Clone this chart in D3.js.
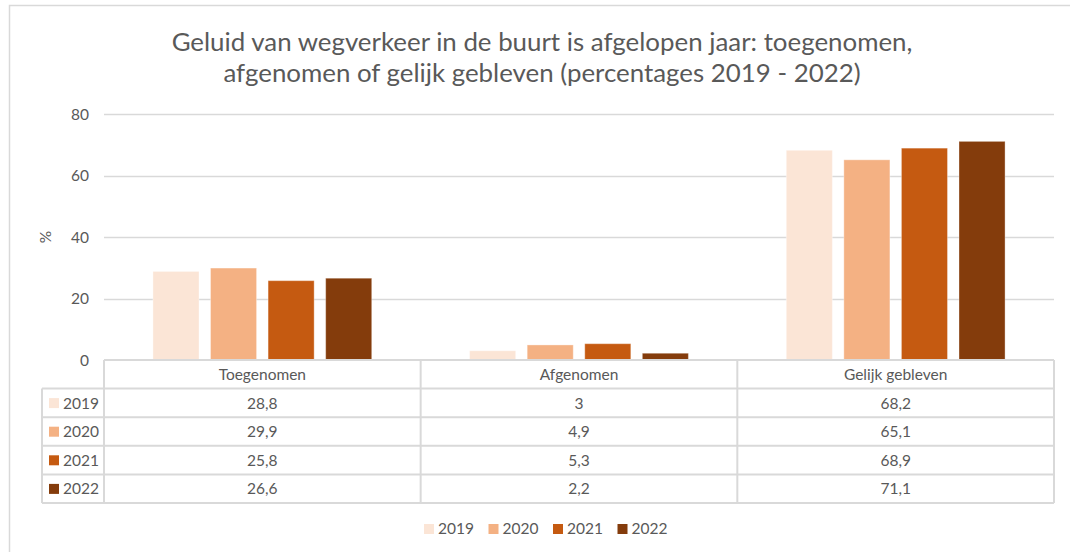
<!DOCTYPE html>
<html><head><meta charset="utf-8">
<script src="https://cdn.jsdelivr.net/npm/d3@7"></script>
<style>
html,body{margin:0;padding:0;background:#fff;}
svg{display:block;}
text{font-family:Lato, "Open Sans", sans-serif;fill:#595959;}
</style></head>
<body>
<svg id="c" width="1070" height="552"></svg>
<script>
const categories = ["Toegenomen", "Afgenomen", "Gelijk gebleven"];
const years = ["2019", "2020", "2021", "2022"];
const values2019 = [28.8, 3, 68.2];
const values2020 = [29.9, 4.9, 65.1];
const values2021 = [25.8, 5.3, 68.9];
const values2022 = [26.6, 2.2, 71.1];
const colors = ["#FBE5D6", "#F4B183", "#C55A11", "#843C0C"];
const yTicks = [0, 20, 40, 60, 80];
const titleLines = ["Geluid van wegverkeer in de buurt is afgelopen jaar: toegenomen,",
                    "afgenomen of gelijk gebleven (percentages 2019 - 2022)"];

(function () {
const series = [values2019, values2020, values2021, values2022];
const fmt = v => String(v).replace(".", ",");

const svg = d3.select("#c");
const grid = "#D9D9D9";

// chart frame
svg.append("rect").attr("x", 9.5).attr("y", 5.5).attr("width", 1200).attr("height", 700)
  .attr("fill", "none").attr("stroke", grid).attr("stroke-width", 1.5);

// title
function fitText(sel, target) {
  const w = sel.node().getComputedTextLength();
  const fs = parseFloat(sel.attr("font-size"));
  sel.attr("font-size", (fs * target / w).toFixed(2));
}
const t1 = svg.append("text").attr("x", 542).attr("y", 51).attr("text-anchor", "middle")
  .attr("font-size", 24).text(titleLines[0]);
fitText(t1, 741);
svg.append("text").attr("x", 542).attr("y", 82).attr("text-anchor", "middle")
  .attr("font-size", t1.attr("font-size")).text(titleLines[1]);

const pLeft = 104, pRight = 1054, pTop = 114, pBottom = 360;
const x0 = d3.scaleBand().domain(categories).range([pLeft, pRight]).padding(0);
const x1 = d3.scaleBand().domain(years).range([0, x0.bandwidth()]).paddingInner(0.2).paddingOuter(0.85);
const y = d3.scaleLinear().domain([0, 80]).range([pBottom, pTop]);

// gridlines
svg.append("g").selectAll("line").data(yTicks.filter(d => d > 0)).join("line")
  .attr("x1", pLeft).attr("x2", pRight)
  .attr("y1", d => Math.round(y(d)) + 0.5).attr("y2", d => Math.round(y(d)) + 0.5)
  .attr("stroke", grid).attr("stroke-width", 1.5);

// y axis labels
const yAxis = d3.axisLeft(y).tickValues(yTicks).tickSize(0).tickPadding(0);
const gy = svg.append("g").attr("transform", `translate(${pLeft - 15},0)`).call(yAxis);
gy.select(".domain").remove();
gy.selectAll("text").attr("font-size", 15.5).attr("fill", "#595959")
  .attr("font-family", "Lato, sans-serif").attr("dy", "0.35em");

svg.append("text").attr("transform", `translate(51,237) rotate(-90)`)
  .attr("text-anchor", "middle").attr("font-size", 15.5).text("%");

// bars
const g = svg.append("g");
years.forEach((yr, i) => {
  g.append("g").selectAll("rect").data(categories).join("rect")
    .attr("x", c => x0(c) + x1(yr))
    .attr("width", x1.bandwidth())
    .attr("y", (c, j) => y(series[i][j]))
    .attr("height", (c, j) => y(0) - y(series[i][j]))
    .attr("fill", colors[i])
    .attr("stroke", "#ffffff").attr("stroke-opacity", 0.35).attr("stroke-width", 1);
});

// data table
const rowH = 28.6;
const rowY = k => pBottom + rowH * k; // k=0 header top
const labLeft = 42;
const tg = svg.append("g");
tg.append("line").attr("x1", pLeft).attr("x2", pRight).attr("y1", rowY(0)).attr("y2", rowY(0))
  .attr("stroke", grid).attr("stroke-width", 2);
for (let k = 1; k <= 5; k++) {
  tg.append("line").attr("x1", labLeft).attr("x2", pRight).attr("y1", rowY(k)).attr("y2", rowY(k))
    .attr("stroke", grid).attr("stroke-width", 2);
}
tg.append("line").attr("x1", labLeft).attr("x2", labLeft).attr("y1", rowY(1)).attr("y2", rowY(5))
  .attr("stroke", grid).attr("stroke-width", 2);
[pLeft, ...categories.map(c => x0(c) + x0.bandwidth())].forEach(xx => {
  tg.append("line").attr("x1", xx).attr("x2", xx).attr("y1", rowY(0)).attr("y2", rowY(5))
    .attr("stroke", grid).attr("stroke-width", 2);
});
categories.forEach(c => {
  tg.append("text").attr("x", x0(c) + x0.bandwidth() / 2).attr("y", rowY(0) + 20)
    .attr("text-anchor", "middle").attr("font-size", 15.5).text(c);
});
years.forEach((yr, i) => {
  const yy = rowY(i + 1);
  tg.append("rect").attr("x", 49).attr("y", yy + 9.5).attr("width", 10).attr("height", 10).attr("fill", colors[i]);
  tg.append("text").attr("x", 63).attr("y", yy + 20).attr("font-size", 15.5).text(yr);
  categories.forEach((c, j) => {
    tg.append("text").attr("x", x0(c) + x0.bandwidth() / 2).attr("y", yy + 20)
      .attr("text-anchor", "middle").attr("font-size", 15.5).text(fmt(series[i][j]));
  });
});

// legend
const lg = svg.append("g").attr("transform", "translate(424,524)");
years.forEach((yr, i) => {
  const gg = lg.append("g").attr("transform", `translate(${i * 64.5},0)`);
  gg.append("rect").attr("width", 10).attr("height", 10).attr("fill", colors[i]);
  gg.append("text").attr("x", 14).attr("y", 10).attr("font-size", 15.5).text(yr);
});
})();
</script>
</body></html>
